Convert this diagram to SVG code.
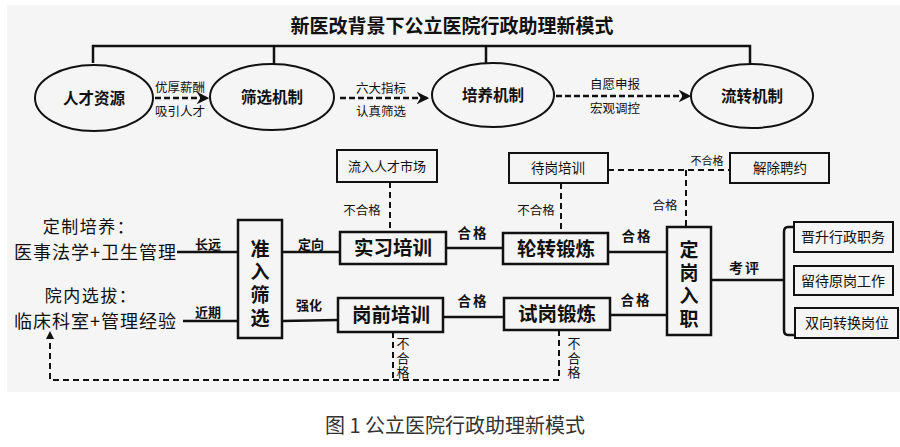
<svg xmlns="http://www.w3.org/2000/svg" width="900" height="447" viewBox="0 0 900 447">
<defs>
<style>
.cjk{font-family:"Noto Sans CJK SC","Liberation Sans",sans-serif;fill:#111}
.b{font-weight:bold}
.vt{writing-mode:vertical-rl;text-orientation:upright}
.box{fill:none;stroke:#111;stroke-width:2}
.bbox{fill:none;stroke:#111;stroke-width:2.5}
.ln{fill:none;stroke:#111;stroke-width:2.5}
.dash{fill:none;stroke:#111;stroke-width:2;stroke-dasharray:6 4}
.adash{fill:none;stroke:#111;stroke-width:2.5;stroke-dasharray:6 3}
.ell{fill:none;stroke:#111;stroke-width:2}
</style>
<marker id="ah" viewBox="0 0 10 10" refX="9" refY="5" markerWidth="5" markerHeight="5" orient="auto" markerUnits="strokeWidth">
<path d="M0,0 L10,5 L0,10 L3,5 z" fill="#111"/>
</marker>
</defs>
<rect x="0" y="0" width="900" height="447" fill="#ffffff"/>
<rect x="7" y="5" width="893" height="387" fill="#f5f5f5"/>

<g id="title">
<text class="cjk b" x="452" y="33" font-size="19" text-anchor="middle">新医改背景下公立医院行政助理新模式</text>
</g>

<g id="connectors">
<path class="ln" d="M93,63 V46 H750 V64 M274,46 V64 M486,46 V63" stroke-width="2"/>
<line class="adash" x1="155" y1="98" x2="208" y2="98" marker-end="url(#ah)"/>
<line class="adash" x1="340" y1="98" x2="428" y2="98" marker-end="url(#ah)"/>
<line class="adash" x1="556" y1="96" x2="690" y2="96" marker-end="url(#ah)"/>
<line class="ln" x1="177" y1="252" x2="238" y2="252"/>
<line class="ln" x1="282" y1="252" x2="340" y2="252"/>
<line class="ln" x1="183" y1="321" x2="238" y2="321"/>
<line class="ln" x1="282" y1="321" x2="338" y2="320"/>
<line class="ln" x1="446" y1="248" x2="503" y2="248"/>
<line class="ln" x1="608" y1="252" x2="667" y2="252"/>
<line class="ln" x1="443" y1="317" x2="504" y2="317"/>
<line class="ln" x1="610" y1="315" x2="667" y2="315"/>
<line class="ln" x1="711" y1="280" x2="784" y2="280"/>
<path class="ln" d="M794,227 H788 Q784,227 784,232 V330 Q784,335 788,335 H795"/>
<line class="dash" x1="390" y1="182" x2="390" y2="232"/>
<line class="dash" x1="561" y1="183" x2="561" y2="233"/>
<line class="dash" x1="608" y1="170" x2="730" y2="170"/>
<line class="dash" x1="686" y1="170" x2="686" y2="227"/>
<line class="dash" x1="393" y1="332" x2="393" y2="380"/>
<line class="dash" x1="559" y1="330" x2="559" y2="380"/>
<path class="dash" d="M559,380 H50 V338"/>
<path d="M50,331 L46,339 L54,339 z" fill="#111"/>
</g>

<g id="edge-labels">
<text class="cjk" x="180" y="92" font-size="12.5" text-anchor="middle">优厚薪酬</text>
<text class="cjk" x="180" y="116" font-size="12.5" text-anchor="middle">吸引人才</text>
<text class="cjk" x="381" y="93" font-size="12.5" text-anchor="middle">六大指标</text>
<text class="cjk" x="381" y="116" font-size="12.5" text-anchor="middle">认真筛选</text>
<text class="cjk" x="615" y="89" font-size="12.5" text-anchor="middle">自愿申报</text>
<text class="cjk" x="615" y="113" font-size="12.5" text-anchor="middle">宏观调控</text>
<text class="cjk b" x="208" y="249" font-size="13" text-anchor="middle">长远</text>
<text class="cjk b" x="311" y="249" font-size="13" text-anchor="middle">定向</text>
<text class="cjk b" x="208" y="317" font-size="13" text-anchor="middle">近期</text>
<text class="cjk b" x="309" y="310" font-size="13" text-anchor="middle">强化</text>
<text class="cjk b" x="473" y="238" font-size="13.5" text-anchor="middle" letter-spacing="2">合格</text>
<text class="cjk b" x="637" y="241" font-size="13.5" text-anchor="middle" letter-spacing="2">合格</text>
<text class="cjk b" x="473" y="306" font-size="13.5" text-anchor="middle" letter-spacing="2">合格</text>
<text class="cjk b" x="636" y="305" font-size="13.5" text-anchor="middle" letter-spacing="2">合格</text>
<text class="cjk b" x="745" y="273" font-size="14" text-anchor="middle" letter-spacing="2">考评</text>
<text class="cjk" x="362" y="215" font-size="12.5" text-anchor="middle">不合格</text>
<text class="cjk" x="536" y="215" font-size="12.5" text-anchor="middle">不合格</text>
<text class="cjk" x="665" y="210" font-size="12.5" text-anchor="middle">合格</text>
<text class="cjk" x="707" y="165" font-size="11" text-anchor="middle">不合格</text>
<text class="cjk vt" x="403" y="337" font-size="13" letter-spacing="1.5">不合格</text>
<text class="cjk vt" x="574" y="337" font-size="13" letter-spacing="1.5">不合格</text>
</g>

<g id="node-rencai">
<ellipse class="ell" cx="94" cy="98" rx="59" ry="33"/>
<text class="cjk b" x="94" y="104" font-size="15.5" text-anchor="middle">人才资源</text>
</g>
<g id="node-shaixuan">
<ellipse class="ell" cx="272" cy="97" rx="62" ry="33"/>
<text class="cjk b" x="272" y="103" font-size="15.5" text-anchor="middle">筛选机制</text>
</g>
<g id="node-peiyang">
<ellipse class="ell" cx="493" cy="95" rx="61" ry="32"/>
<text class="cjk b" x="493" y="101" font-size="15.5" text-anchor="middle">培养机制</text>
</g>
<g id="node-liuzhuan">
<ellipse class="ell" cx="752" cy="96" rx="61" ry="32"/>
<text class="cjk b" x="752" y="102" font-size="15.5" text-anchor="middle">流转机制</text>
</g>

<g id="node-dingzhi">
<text class="cjk" x="89" y="233" font-size="17" text-anchor="middle" letter-spacing="1.5">定制培养：</text>
<text class="cjk" x="14" y="259" font-size="18" textLength="162" lengthAdjust="spacing">医事法学+卫生管理</text>
</g>
<g id="node-yuannei">
<text class="cjk" x="91" y="302" font-size="17" text-anchor="middle" letter-spacing="1.5">院内选拔：</text>
<text class="cjk" x="14" y="328" font-size="18" textLength="162" lengthAdjust="spacing">临床科室+管理经验</text>
</g>

<g id="node-zhunru">
<rect class="bbox" x="238" y="220" width="44" height="118"/>
<text class="cjk b vt" x="260" y="239" font-size="19" letter-spacing="4">准入筛选</text>
</g>

<g id="node-liuru">
<rect class="box" x="337" y="150" width="100" height="32"/>
<text class="cjk" x="387" y="171" font-size="13" text-anchor="middle">流入人才市场</text>
</g>
<g id="node-shixi">
<rect class="bbox" x="340" y="232" width="106" height="32"/>
<text class="cjk b" x="393" y="255" font-size="19.5" text-anchor="middle">实习培训</text>
</g>
<g id="node-gangqian">
<rect class="bbox" x="338" y="298" width="105" height="34"/>
<text class="cjk b" x="391" y="322" font-size="19.5" text-anchor="middle">岗前培训</text>
</g>
<g id="node-daigang">
<rect class="box" x="509" y="153" width="99" height="30"/>
<text class="cjk" x="558" y="173" font-size="13.5" text-anchor="middle">待岗培训</text>
</g>
<g id="node-lunzhuan">
<rect class="bbox" x="503" y="233" width="105" height="31"/>
<text class="cjk b" x="556" y="256" font-size="19.5" text-anchor="middle">轮转锻炼</text>
</g>
<g id="node-shigang">
<rect class="bbox" x="504" y="298" width="106" height="32"/>
<text class="cjk b" x="557" y="321" font-size="19.5" text-anchor="middle">试岗锻炼</text>
</g>
<g id="node-jiechu">
<rect class="box" x="730" y="153" width="99" height="30"/>
<text class="cjk" x="780" y="173" font-size="13.5" text-anchor="middle">解除聘约</text>
</g>
<g id="node-dinggang">
<rect class="bbox" x="667" y="227" width="44" height="108"/>
<text class="cjk b vt" x="689" y="240" font-size="19" letter-spacing="4">定岗入职</text>
</g>
<g id="node-jinsheng">
<rect class="box" x="794" y="222" width="99" height="30"/>
<text class="cjk" x="843" y="242" font-size="14" text-anchor="middle">晋升行政职务</text>
</g>
<g id="node-liudai">
<rect class="box" x="794" y="266" width="99" height="29"/>
<text class="cjk" x="843" y="286" font-size="14" text-anchor="middle">留待原岗工作</text>
</g>
<g id="node-shuangxiang">
<rect class="box" x="795" y="308" width="103" height="30"/>
<text class="cjk" x="847" y="328" font-size="14" text-anchor="middle">双向转换岗位</text>
</g>

<g id="caption">
<text x="455" y="433" font-family="Noto Sans CJK SC, Liberation Sans, sans-serif" font-size="20" fill="#333" text-anchor="middle">图 1 公立医院行政助理新模式</text>
</g>
</svg>
